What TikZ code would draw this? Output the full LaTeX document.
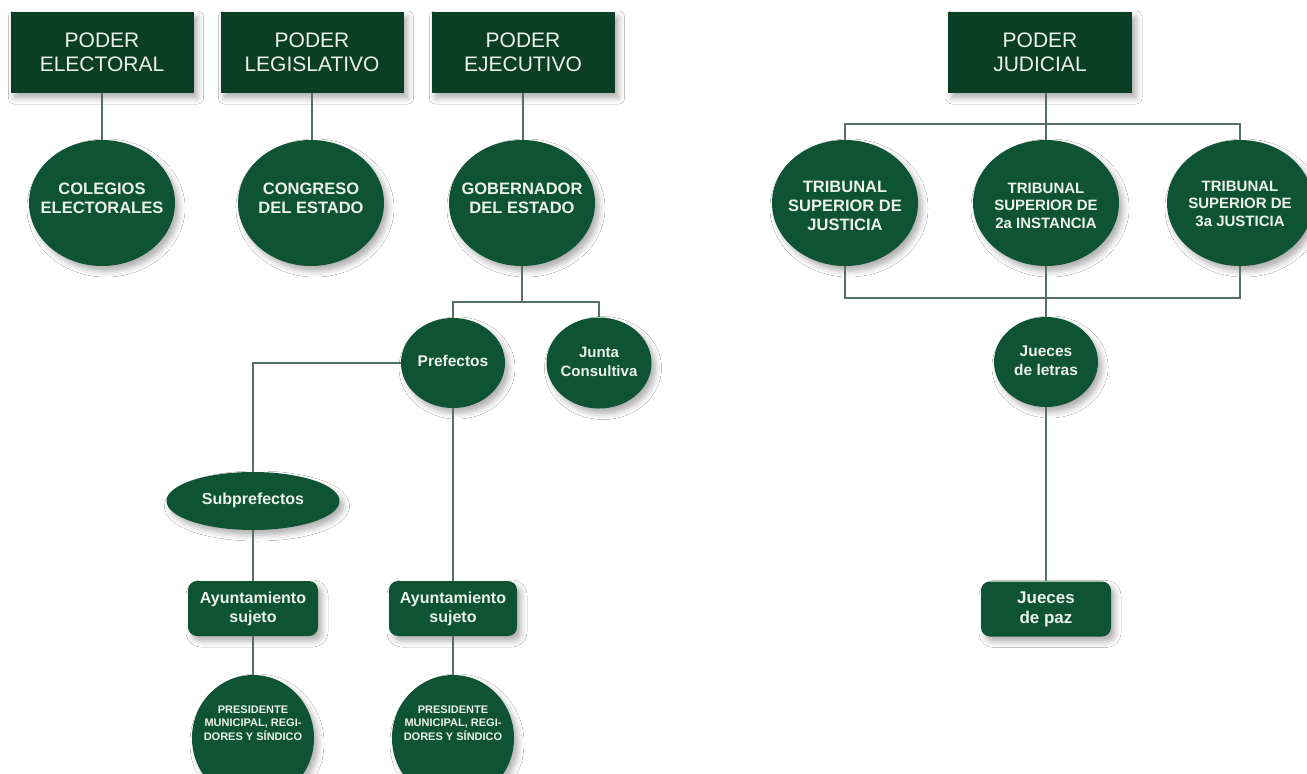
\documentclass[tikz,border=0pt]{standalone}
\usepackage{fontspec}
\setmainfont{Liberation Sans}
\usetikzlibrary{shapes.geometric,shadows.blur}
\definecolor{boxgreen}{RGB}{11,62,38}
\definecolor{circgreen}{RGB}{14,84,52}
\definecolor{linecol}{RGB}{84,112,98}
\definecolor{txt}{RGB}{236,242,232}
\tikzset{
  shad/.style={blur shadow={shadow xshift=4pt,shadow yshift=-5pt,shadow blur radius=6pt,shadow opacity=32}},
  powerbox/.style={rectangle, fill=boxgreen, text=txt, minimum width=183pt, minimum height=81pt,
    inner sep=0pt, align=center, font=\fontsize{21}{24}\selectfont, shad},
  bigcirc/.style={ellipse, fill=circgreen, text=txt, minimum width=146pt, minimum height=126pt,
    inner sep=0pt, font=\bfseries\fontsize{16.5}{19}\selectfont, shad},
  smallfont/.style={font=\bfseries\fontsize{15}{17.5}\selectfont},
  midcirc/.style={ellipse, fill=circgreen, text=txt, minimum width=104pt, minimum height=90pt,
    inner sep=0pt, font=\bfseries\fontsize{15.5}{19}\selectfont, shad},
  subell/.style={ellipse, fill=circgreen, text=txt, minimum width=173pt, minimum height=58pt,
    inner sep=0pt, font=\bfseries\fontsize{16}{19}\selectfont, shad},
  roundbox/.style={rectangle, rounded corners=9pt, fill=circgreen, text=txt, minimum width=130pt,
    minimum height=55pt, inner sep=0pt, align=center, font=\bfseries\fontsize{16}{19}\selectfont, shad},
  prescirc/.style={ellipse, fill=circgreen, text=txt, minimum width=122pt, minimum height=126pt,
    inner sep=0pt, font=\bfseries\fontsize{11}{13.3}\selectfont, shad},
  conn/.style={draw=linecol, line width=1.8pt}
}
% centred text of zero size, so that the ellipse keeps its given size
\newcommand{\ctext}[2][0pt]{\smash{\makebox[0pt]{\raisebox{\dimexpr(\depth-\height)/2+#1\relax}{\begin{tabular}{@{}c@{}}#2\end{tabular}}}}}
\begin{document}
\begin{tikzpicture}[x=1pt,y=-1pt]
\useasboundingbox (0,0) rectangle (1307,774);
\fill[white] (0,0) rectangle (1307,774);

% top boxes
\node[powerbox] (pe)  at (102,52.5)  {PODER\\ELECTORAL};
\node[powerbox] (pl)  at (312,52.5)  {PODER\\LEGISLATIVO};
\node[powerbox] (pej) at (523,52.5)  {PODER\\EJECUTIVO};
\node[powerbox, minimum width=184pt] (pj) at (1040,52.5) {PODER\\JUDICIAL};

% second row circles
\node[bigcirc] (ce) at (102,203) {\ctext[3pt]{COLEGIOS\\ELECTORALES}};
\node[bigcirc] (cl) at (311,203) {\ctext[3pt]{CONGRESO\\DEL ESTADO}};
\node[bigcirc] (go) at (522,203) {\ctext[3pt]{GOBERNADOR\\DEL ESTADO}};
\node[bigcirc] (t1) at (845,203) {\ctext[-5pt]{TRIBUNAL\\SUPERIOR DE\\JUSTICIA}};
\node[bigcirc, smallfont] (t2) at (1046,203) {\ctext[-4pt]{TRIBUNAL\\SUPERIOR DE\\2a INSTANCIA}};
\node[bigcirc, smallfont] (t3) at (1240,203) {\ctext[-2pt]{TRIBUNAL\\SUPERIOR DE\\3a JUSTICIA}};

% executive subtree
\node[midcirc] (pf) at (453,363) {\ctext{Prefectos}};
\node[midcirc, minimum width=105pt, minimum height=91pt, font=\bfseries\fontsize{15}{19}\selectfont] (ju) at (599,363) {\ctext{Junta\\Consultiva}};
\node[subell] (sp) at (253,501) {\ctext{Subprefectos}};
\node[roundbox] (a1) at (253,608.5) {Ayuntamiento\\sujeto};
\node[roundbox, minimum width=128pt] (a2) at (453,608.5) {Ayuntamiento\\sujeto};
\node[prescirc] (p1) at (253,738) {\ctext[14pt]{PRESIDENTE\\MUNICIPAL, REGI-\\DORES Y SÍNDICO}};
\node[prescirc] (p2) at (453,738) {\ctext[14pt]{PRESIDENTE\\MUNICIPAL, REGI-\\DORES Y SÍNDICO}};

% judicial subtree
\node[midcirc] (jl) at (1046,362) {\ctext{Jueces\\de letras}};
\node[roundbox, font=\bfseries\fontsize{17}{20}\selectfont] (jp) at (1046,609) {Jueces\\de paz};

\coordinate (gbar) at (523,302);
\coordinate (jtop) at (1046,124);
\coordinate (jbot) at (1046,298);

% connectors
\draw[conn] (pe.south) -- (ce.north);
\draw[conn] (pl.south) -- (pl.south |- cl.north);
\draw[conn] (pej.south) -- (pej.south |- go.north);
\draw[conn] (go.south) -- (go.south |- gbar);
\draw[conn] (pf.north) |- (gbar) -| (ju.north);
\draw[conn] (pf.west) -| (sp.north);
\draw[conn] (sp.south) -- (a1.north);
\draw[conn] (a1.south) -- (p1.north);
\draw[conn] (pf.south) -- (a2.north);
\draw[conn] (a2.south) -- (p2.north);
\draw[conn] (pj.south -| t2.north) -- (t2.north);
\draw[conn] (t1.north) |- (jtop) -| (t3.north);
\draw[conn] (t1.south) |- (jbot) -| (t3.south);
\draw[conn] (t2.south) -- (jl.north);
\draw[conn] (jl.south) -- (jp.north);
\end{tikzpicture}
\end{document}
